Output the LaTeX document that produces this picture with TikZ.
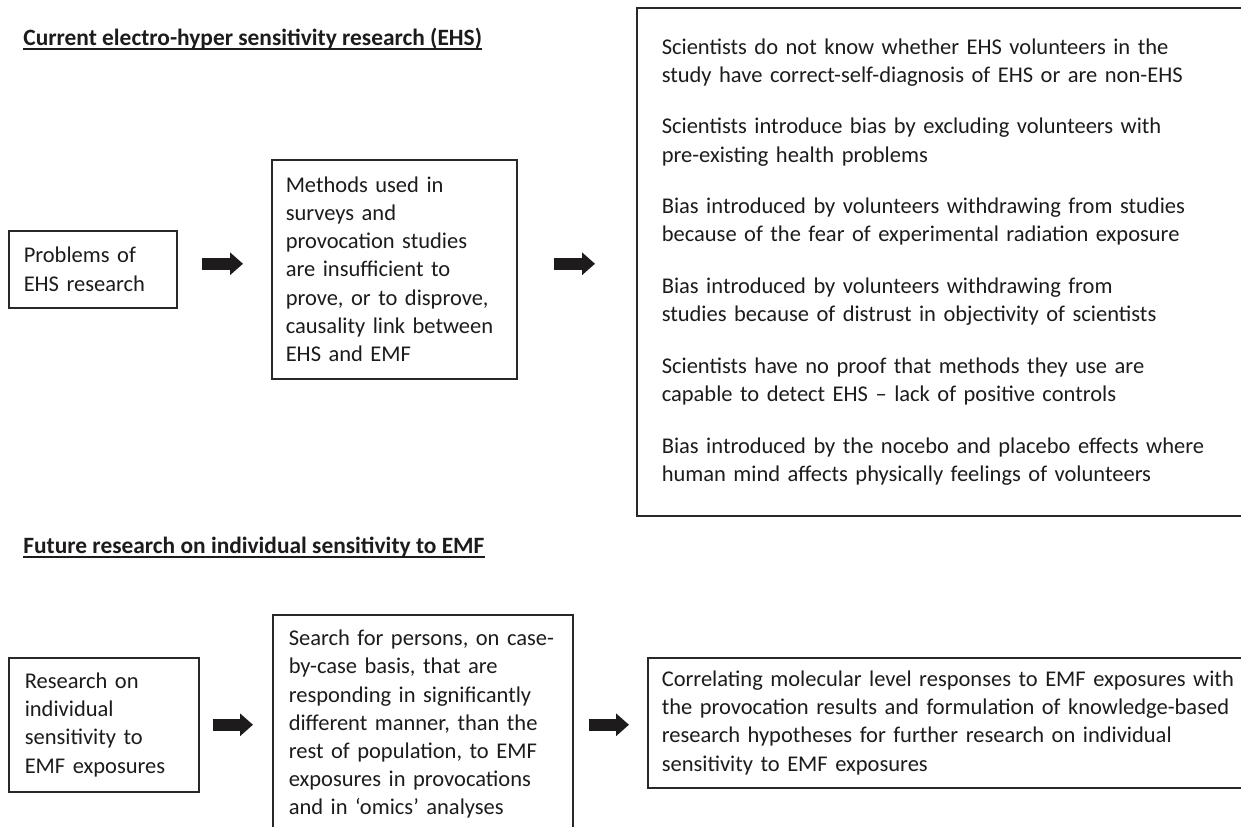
\documentclass[tikz,border=0pt]{standalone}
\usepackage{fontspec}
\setmainfont{Carlito}
\usetikzlibrary{arrows.meta}
\definecolor{ink}{RGB}{30,27,28}
\definecolor{edge}{RGB}{40,40,40}
\begin{document}
\begin{tikzpicture}[x=0.5pt,y=-0.5pt,
  every node/.style={font=\fontsize{11.25pt}{14.1pt}\selectfont, text=ink},
  box/.style={draw=edge, line width=0.75pt, rectangle, anchor=north west, inner ysep=0pt, align=left},
  blockarrow/.style={draw=ink, line width=6pt, -{Triangle[length=6.5pt,width=11pt]}},
  title/.style={font=\fontsize{11.7pt}{14.1pt}\selectfont\bfseries, anchor=base west, inner sep=0pt},
  uline/.style={draw=ink, line width=0.8pt}
]
\useasboundingbox (0,0) rectangle (1241,826);
\fill[white] (0,0) rectangle (1241,826);
\clip (0,0) rectangle (1241,826);

% titles
\node[title] (t1) at (23,45) {Current electro-hyper sensitivity research (EHS)};
\draw[uline] ([yshift=-2pt]t1.base west) -- ([yshift=-2pt]t1.base east);
\node[title] (t2) at (23,553) {Future research on individual sensitivity to EMF};
\draw[uline] ([yshift=-2pt]t2.base west) -- ([yshift=-2pt]t2.base east);

% top row
\node[box, minimum width=84pt, minimum height=38.5pt, inner xsep=7.5pt, text width=69pt] (a) at (8,230)
  {Problems of\\EHS research};
\node[box, minimum width=122.5pt, minimum height=109.5pt, inner xsep=7pt, text width=108.5pt] (b) at (271,159)
  {Methods used in\\surveys and\\provocation studies\\are insufficient to\\prove, or to disprove,\\causality link between\\EHS and EMF};
\node[box, minimum width=312pt, minimum height=254pt, inner xsep=12.5pt, text width=287pt] (r) at (636,7)
  {Scientists do not know whether EHS volunteers in the\\study have correct-self-diagnosis of EHS or are non-EHS\\[11.7pt]
   Scientists introduce bias by excluding volunteers with\\pre-existing health problems\\[11.7pt]
   Bias introduced by volunteers withdrawing from studies\\because of the fear of experimental radiation exposure\\[11.7pt]
   Bias introduced by volunteers withdrawing from\\studies because of distrust in objectivity of scientists\\[11.7pt]
   Scientists have no proof that methods they use are\\capable to detect EHS – lack of positive controls\\[11.7pt]
   Bias introduced by the nocebo and placebo effects where\\human mind affects physically feelings of volunteers};

% bottom row
\node[box, minimum width=95pt, minimum height=67pt, inner xsep=8pt, text width=79pt] (c) at (8,657)
  {Research on\\individual\\sensitivity to\\EMF exposures};
\node[box, minimum width=150pt, minimum height=109.5pt, inner xsep=8pt, text width=134pt] (d) at (272,614)
  {Search for persons, on case-\\by-case basis, that are\\responding in significantly\\different manner, than the\\rest of population, to EMF\\exposures in provocations\\and in ‘omics’ analyses};
\node[box, minimum width=311.5pt, minimum height=65pt, inner xsep=7pt, text width=297.5pt] (e) at (647,657)
  {Correlating molecular level responses to EMF exposures with\\the provocation results and formulation of knowledge-based\\research hypotheses for further research on individual\\sensitivity to EMF exposures};

% arrows
\draw[blockarrow] ([shift={(24,-5.5)}]a.east) -- ([shift={(-28,-5.5)}]b.west);
\draw[blockarrow] ([shift={(36,-5.5)}]b.east) -- ([shift={(-41,2)}]r.west);
\draw[blockarrow] ([shift={(13,0)}]c.east) -- ([shift={(-19,0.5)}]d.west);
\draw[blockarrow] ([shift={(15,0.5)}]d.east) -- ([shift={(-18,2)}]e.west);
\end{tikzpicture}
\end{document}
